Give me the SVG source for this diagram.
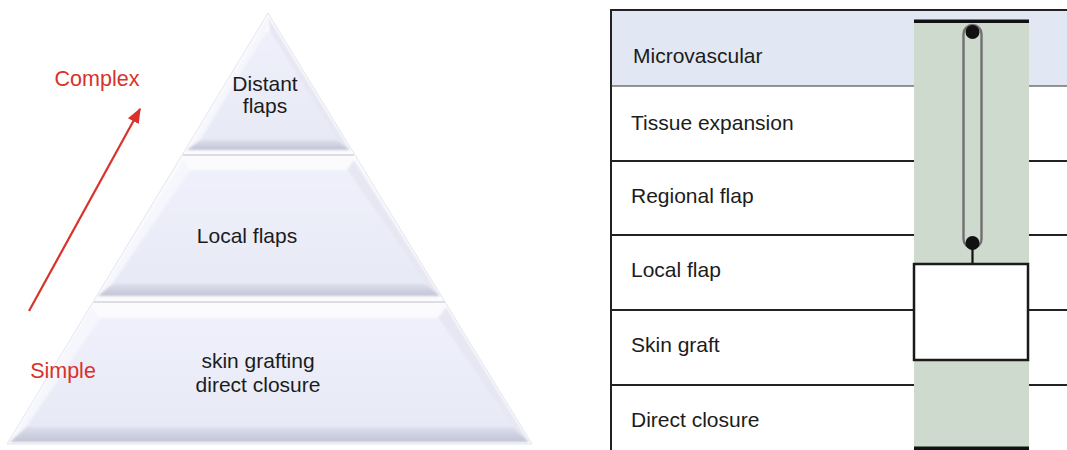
<svg xmlns="http://www.w3.org/2000/svg" width="1067" height="450" viewBox="0 0 1067 450">
  <style>
    .lbl { font-family: "Liberation Sans", Arial, sans-serif; font-size: 21px; fill: #1c1c1c; }
    .red { font-family: "Liberation Sans", Arial, sans-serif; font-size: 21.5px; fill: #d8322a; }
    .row { font-family: "Liberation Sans", Arial, sans-serif; font-size: 21px; fill: #1c1c1c; }
    .rule { stroke: #222; stroke-width: 2; }
    .face { fill: url(#faceGrad); }
    .bevB { fill: url(#bevBottom); }
    .bevL { fill: #f6f7fd; }
    .bevR { fill: #e6e7f2; }
    .sep { stroke: #d3d4dc; stroke-width: 1.6; }
  </style>
  <defs>
    <linearGradient id="faceGrad" x1="0" y1="0" x2="0" y2="1">
      <stop offset="0" stop-color="#eff0fa"/>
      <stop offset="1" stop-color="#e7e9f6"/>
    </linearGradient>
    <linearGradient id="bevBottom" x1="0" y1="0" x2="0" y2="1">
      <stop offset="0" stop-color="#dddfec"/>
      <stop offset="1" stop-color="#c2c4d5"/>
    </linearGradient>
    <filter id="soft" x="-5%" y="-5%" width="110%" height="110%">
      <feGaussianBlur stdDeviation="0.8"/>
    </filter>
    <marker id="redHead" viewBox="0 0 10 10" refX="9" refY="5" markerWidth="7" markerHeight="7" orient="auto">
      <path d="M0,1 L10,5 L0,9 z" fill="#d8322a"/>
    </marker>
  </defs>

  <rect width="1067" height="450" fill="#ffffff"/>

  <!-- pyramid: outer white outline -->
  <polygon points="268,13 7,444 532,444" fill="#fbfbfe" stroke="#e4e5ee" stroke-width="1"/>

  <g filter="url(#soft)">
    <!-- top tier -->
    <g id="tier-top">
      <polygon class="bevL" points="268,17 187,150 200,140 266,32"/>
      <polygon class="bevR" points="268,17 350,150 337,140 270,32"/>
      <polygon class="bevB" points="187,150 350,150 337,140 200,140"/>
      <polygon class="face" points="266,32 270,32 337,140 200,140"/>
    </g>
    <!-- middle tier -->
    <g id="tier-mid">
      <polygon class="bevL" points="183,160 98,296 112,284 190,170"/>
      <polygon class="bevR" points="354,160 440,296 426,284 347,170"/>
      <polygon class="bevB" points="98,296 440,296 426,284 112,284"/>
      <polygon class="face" points="190,170 347,170 426,284 112,284"/>
    </g>
    <!-- bottom tier -->
    <g id="tier-bottom">
      <polygon class="bevL" points="92,307 10,442 26,427 100,318"/>
      <polygon class="bevR" points="446,307 529,442 513,427 438,318"/>
      <polygon class="bevB" points="10,442 529,442 513,427 26,427"/>
      <polygon class="face" points="100,318 438,318 513,427 26,427"/>
    </g>
  </g>

  <!-- separators between tiers -->
  <line class="sep" x1="183" y1="155" x2="354" y2="155"/>
  <line class="sep" x1="94" y1="302" x2="445" y2="302"/>

  <!-- pyramid labels -->
  <g id="label-distant">
    <text class="lbl" x="265" y="91" text-anchor="middle">Distant</text>
    <text class="lbl" x="265" y="113" text-anchor="middle">flaps</text>
  </g>
  <g id="label-local">
    <text class="lbl" x="247" y="243" text-anchor="middle">Local flaps</text>
  </g>
  <g id="label-base">
    <text class="lbl" x="258" y="368" text-anchor="middle">skin grafting</text>
    <text class="lbl" x="258" y="392" text-anchor="middle">direct closure</text>
  </g>

  <!-- simple-to-complex axis -->
  <g id="axis">
    <text class="red" x="97" y="86" text-anchor="middle">Complex</text>
    <text class="red" x="63" y="378" text-anchor="middle">Simple</text>
  </g>
  <g id="connectors">
    <line x1="29" y1="311" x2="140" y2="109" stroke="#d8322a" stroke-width="2.2" marker-end="url(#redHead)"/>
  </g>

  <!-- reconstructive ladder table -->
  <g id="ladder">
    <rect x="611" y="10" width="456" height="76" fill="#e1e8f3"/>
    <line class="rule" x1="611" y1="10" x2="611" y2="450"/>
    <line class="rule" x1="610" y1="10" x2="1067" y2="10"/>
    <line x1="611" y1="86" x2="1067" y2="86" stroke="#333" stroke-width="1.2"/>
    <line class="rule" x1="611" y1="161" x2="1067" y2="161"/>
    <line class="rule" x1="611" y1="235" x2="1067" y2="235"/>
    <line class="rule" x1="611" y1="310" x2="1067" y2="310"/>
    <line class="rule" x1="611" y1="385" x2="1067" y2="385"/>

    <text class="row" x="633" y="63">Microvascular</text>
    <text class="row" x="631" y="130">Tissue expansion</text>
    <text class="row" x="631" y="203">Regional flap</text>
    <text class="row" x="631" y="277">Local flap</text>
    <text class="row" x="631" y="352">Skin graft</text>
    <text class="row" x="631" y="427">Direct closure</text>
  </g>

  <!-- option column -->
  <g id="column">
    <rect x="914" y="21" width="115" height="428" fill="#cfdacf"/>
    <rect x="914" y="19.5" width="115" height="3.5" fill="#111"/>
    <rect x="914" y="446.5" width="115" height="3.5" fill="#111"/>
  </g>

  <g id="link">
    <rect x="963.5" y="25" width="18" height="223" rx="9" fill="none" stroke="#707070" stroke-width="2.4"/>
    <line x1="972.5" y1="243" x2="972.5" y2="264" stroke="#111" stroke-width="2.2"/>
    <circle cx="972.5" cy="32" r="7" fill="#111"/>
    <circle cx="972.5" cy="243" r="7" fill="#111"/>
  </g>

  <g id="box">
    <rect x="914" y="264" width="114" height="96" fill="#ffffff" stroke="#1a1a1a" stroke-width="2.5"/>
  </g>
</svg>
